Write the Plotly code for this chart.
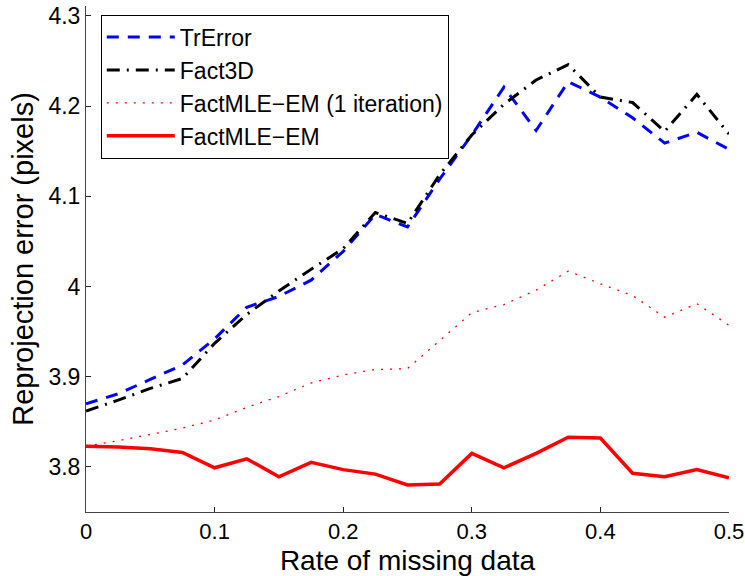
import plotly.graph_objects as go

missing_rate = [0.0, 0.025, 0.05, 0.075, 0.1, 0.125, 0.15, 0.175, 0.2, 0.225, 0.25,
                0.275, 0.3, 0.325, 0.35, 0.375, 0.4, 0.425, 0.45, 0.475, 0.5]

tr_error = [3.870, 3.881, 3.897, 3.913, 3.942, 3.977, 3.989, 4.007, 4.039, 4.080, 4.066,
            4.119, 4.168, 4.221, 4.173, 4.227, 4.210, 4.187, 4.159, 4.171, 4.152]
fact3d = [3.862, 3.874, 3.887, 3.898, 3.937, 3.969, 3.995, 4.019, 4.042, 4.082, 4.070,
          4.124, 4.168, 4.202, 4.229, 4.246, 4.210, 4.204, 4.172, 4.213, 4.169]
factmle_1iter = [3.823, 3.829, 3.836, 3.843, 3.852, 3.866, 3.878, 3.893, 3.902, 3.908, 3.909,
                 3.940, 3.971, 3.980, 3.996, 4.017, 4.003, 3.990, 3.966, 3.981, 3.957]
factmle_em = [3.823, 3.822, 3.820, 3.816, 3.799, 3.809, 3.789, 3.805, 3.797, 3.792, 3.780,
              3.781, 3.815, 3.799, 3.815, 3.833, 3.832, 3.793, 3.789, 3.797, 3.788]

series_names = ["TrError", "Fact3D", "FactMLE\u2212EM (1 iteration)", "FactMLE\u2212EM"]
x_ticks = [0, 0.1, 0.2, 0.3, 0.4, 0.5]
x_tick_labels = ["0", "0.1", "0.2", "0.3", "0.4", "0.5"]
y_ticks = [3.8, 3.9, 4.0, 4.1, 4.2, 4.3]
y_tick_labels = ["3.8", "3.9", "4", "4.1", "4.2", "4.3"]

FONT = "Liberation Sans, Arial, Helvetica, sans-serif"

fig = go.Figure()
fig.add_trace(go.Scatter(x=missing_rate, y=tr_error, mode="lines", name=series_names[0],
                         line=dict(color="#0000ff", width=3, dash="12px,9px")))
fig.add_trace(go.Scatter(x=missing_rate, y=fact3d, mode="lines", name=series_names[1],
                         line=dict(color="#000000", width=3, dash="13px,7px,2px,7px")))
fig.add_trace(go.Scatter(x=missing_rate, y=factmle_1iter, mode="lines", name=series_names[2],
                         line=dict(color="#ff0000", width=1.3, dash="2px,7px")))
fig.add_trace(go.Scatter(x=missing_rate, y=factmle_em, mode="lines", name=series_names[3],
                         line=dict(color="#ff0000", width=3.5)))

fig.update_layout(
    width=745, height=576,
    margin=dict(l=86, r=16, t=6, b=64, autoexpand=False),
    paper_bgcolor="white", plot_bgcolor="white",
    font=dict(family=FONT, color="black", size=23),
    showlegend=True,
    legend=dict(x=0.023, y=0.983, xanchor="left", yanchor="top",
                bgcolor="white", bordercolor="black", borderwidth=1,
                font=dict(family=FONT, size=23, color="black"),
                tracegroupgap=0, itemwidth=68),
    xaxis=dict(range=[0, 0.5], tickvals=x_ticks, ticktext=x_tick_labels,
               showgrid=False, zeroline=False, showline=True, linecolor="#444",
               linewidth=1, mirror=False, ticks="inside", ticklen=5, tickcolor="#222",
               tickfont=dict(size=22), automargin=False,
               title=dict(text="Rate of missing data", font=dict(size=28), standoff=6)),
    yaxis=dict(range=[3.75, 4.311], tickvals=y_ticks, ticktext=y_tick_labels,
               showgrid=False, zeroline=False, showline=True, linecolor="#444",
               linewidth=1, mirror=False, ticks="inside", ticklen=5, tickcolor="#222",
               tickfont=dict(size=23), automargin=False,
               title=dict(text="Reprojection error (pixels)", font=dict(size=29), standoff=6)),
)

fig.write_html("out.html")
